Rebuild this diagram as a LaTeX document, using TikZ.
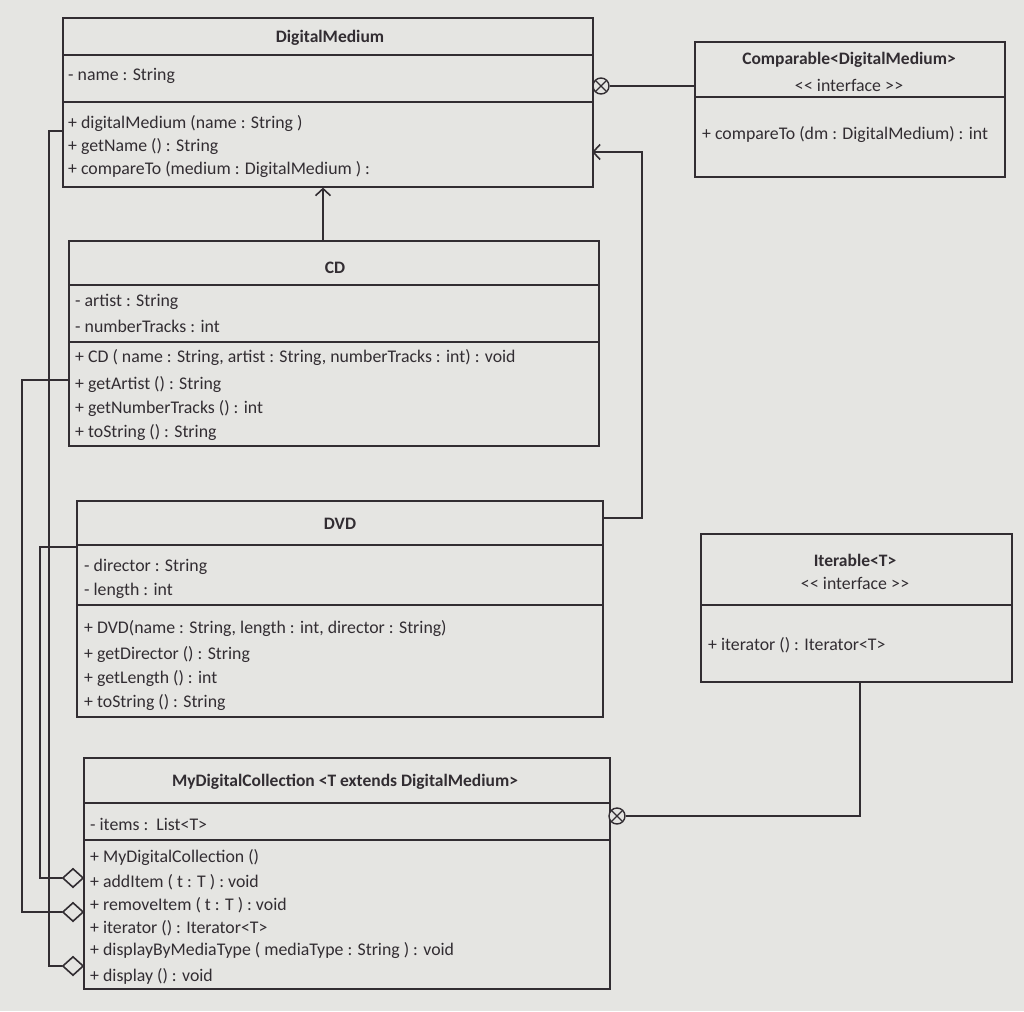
\documentclass[tikz,border=0pt]{standalone}
\usepackage{fontspec}
\setmainfont{Carlito}
\usetikzlibrary{arrows.meta,shapes.geometric}
\definecolor{paper}{RGB}{229,229,226}
\definecolor{ink}{RGB}{50,45,50}
\newcommand{\dlt}{<\kern0.3pt<}
\newcommand{\dgt}{>\kern0.3pt>}
\begin{document}
\begin{tikzpicture}[x=1pt,y=-1pt,
  box/.style={draw=ink, line width=1.6pt, rectangle, anchor=north west, inner sep=0pt},
  divider/.style={draw=ink, line width=1.4pt},
  txt/.style={anchor=west, inner sep=0pt, text=ink, font=\fontsize{17.8}{20}\selectfont},
  ttl/.style={anchor=center, inner sep=0pt, text=ink, font=\bfseries\fontsize{17.5}{20}\selectfont},
  conn/.style={draw=ink, line width=1.6pt},
  gen/.style={conn, -{Straight Barb[length=7pt,width=15pt,line width=1.6pt]}},
  agg/.style={diamond, draw=ink, fill=paper, line width=1.6pt, minimum width=21pt, minimum height=19pt, inner sep=0pt},
  otimes/.style={circle, draw=ink, fill=paper, line width=1.4pt, minimum size=16pt, inner sep=0pt,
    path picture={\draw[ink,line width=1.2pt] (path picture bounding box.north west)--(path picture bounding box.south east)
      (path picture bounding box.north east)--(path picture bounding box.south west);}}
]
\useasboundingbox[fill=paper] (0,0) rectangle (1024,1011);

% ---------- DigitalMedium ----------
\node[box, minimum width=530pt, minimum height=169pt] (dm) at (62,17) {};
\draw[divider] (62,55) -- (592,55);
\draw[divider] (62,102) -- (592,102);
\node[ttl] (dmT) at (330,38) {DigitalMedium};
\node[txt] (dmA1) at (68,76) {- name : String};
\node[txt] (dmM1) at (68,124) {+ digitalMedium (name : String )};
\node[txt] (dmM2) at (68,147) {+ getName () : String};
\node[txt] (dmM3) at (68,170) {+ compareTo (medium : DigitalMedium ) :};

% ---------- Comparable ----------
\node[box, minimum width=310pt, minimum height=135pt] (cmp) at (694,41) {};
\draw[divider] (694,97) -- (1004,97);
\node[ttl] (cmpT) at (849,60) {Comparable<DigitalMedium>};
\node[txt, anchor=center] (cmpS) at (849,85) {\dlt\ interface \dgt};
\node[txt] (cmpM1) at (702,135) {+ compareTo (dm : DigitalMedium) : int};

% ---------- CD ----------
\node[box, minimum width=530pt, minimum height=205pt] (cd) at (68,240) {};
\draw[divider] (68,285) -- (598,285);
\node[ttl] (cdT) at (335,268) {CD};
\draw[divider] (68,342) -- (598,342);
\node[txt] (cdA1) at (75,302) {- artist : String};
\node[txt] (cdA2) at (75,326) {- numberTracks : int};
\node[txt] (cdM1) at (75,358) {+ CD ( name : String, artist : String, numberTracks : int) : void};
\node[txt] (cdM2) at (75,385) {+ getArtist () : String};
\node[txt] (cdM3) at (75,409) {+ getNumberTracks () : int};
\node[txt] (cdM4) at (75,433) {+ toString () : String};

% ---------- DVD ----------
\node[box, minimum width=526pt, minimum height=216pt] (dvd) at (76,500) {};
\draw[divider] (76,545) -- (602,545);
\node[ttl] (dvdT) at (340,524) {DVD};
\draw[divider] (76,605) -- (602,605);
\node[txt] (dvdA1) at (84,567) {- director : String};
\node[txt] (dvdA2) at (84,591) {- length : int};
\node[txt] (dvdM1) at (84,629) {+ DVD(name : String, length : int, director : String)};
\node[txt] (dvdM2) at (84,655) {+ getDirector () : String};
\node[txt] (dvdM3) at (84,679) {+ getLength () : int};
\node[txt] (dvdM4) at (84,703) {+ toString () : String};

% ---------- Iterable ----------
\node[box, minimum width=311pt, minimum height=148pt] (itb) at (700,533) {};
\draw[divider] (700,605) -- (1011,605);
\node[ttl] (itbT) at (855,560) {Iterable<T>};
\node[txt, anchor=center] (itbS) at (855,583) {\dlt\ interface \dgt};
\node[txt] (itbM1) at (708,645) {+ iterator () : Iterator<T>};

% ---------- MyDigitalCollection ----------
\node[box, minimum width=526pt, minimum height=231pt] (mdc) at (83,757) {};
\draw[divider] (83,803) -- (609,803);
\node[ttl] (mdcT) at (345,782) {MyDigitalCollection <T extends DigitalMedium>};
\draw[divider] (83,840) -- (609,840);
\node[txt] (mdcA1) at (90,824) {- items :\ \ List<T>};
\node[txt] (mdcM1) at (90,858) {+ MyDigitalCollection ()};
\node[txt] (mdcM2) at (90,882) {+ addItem ( t : T ) : void};
\node[txt] (mdcM3) at (90,905) {+ removeItem ( t : T ) : void};
\node[txt] (mdcM4) at (90,928) {+ iterator () : Iterator<T>};
\node[txt] (mdcM5) at (90,951) {+ displayByMediaType ( mediaType : String ) : void};
\node[txt] (mdcM6) at (90,976) {+ display () : void};

% ---------- connectors ----------
% CD -> DigitalMedium (generalization)
\coordinate (cdTop) at (323,240);
\draw[gen] (cdTop) -- (cdTop |- dm.south);

% DVD -> DigitalMedium (generalization)
\coordinate (dvdOut) at (602,518);
\coordinate (dmIn) at (592,152);
\draw[gen] (dvdOut) -- (642,518) -- (642,152) -- (dmIn);

% DigitalMedium realizes Comparable
\node[otimes] (dmReal) at (601,86) {};
\draw[conn] (dmReal.east) -- (dmReal.east -| cmp.west);

% MyDigitalCollection realizes Iterable
\node[otimes] (mdcReal) at (617,816) {};
\coordinate (itbOut) at (860,681);
\draw[conn] (mdcReal.east) -- (itbOut |- mdcReal.east) -- (itbOut);

% aggregations
\node[agg] (aggAdd) at (73,878) {};
\node[agg] (aggRem) at (73,912) {};
\node[agg] (aggDisp) at (73,966) {};
\coordinate (cdOut) at (68,380);
\coordinate (dvdLeft) at (76,547);
\coordinate (dmOut) at (62,131);
\draw[conn] (cdOut) -- (22,380) -- (22,912) -- (aggRem.west);
\draw[conn] (dvdLeft) -- (40,547) -- (40,878) -- (aggAdd.west);
\draw[conn] (dmOut) -- (49,131) -- (49,966) -- (aggDisp.west);
\end{tikzpicture}
\end{document}
